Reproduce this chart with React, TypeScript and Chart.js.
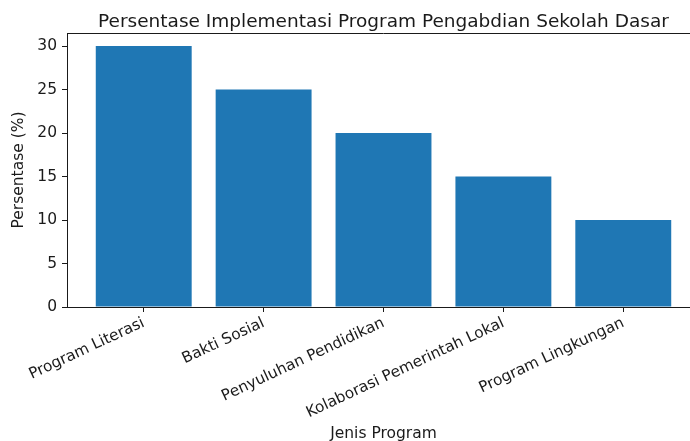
import React, { useEffect, useRef } from "react";
import { Chart, registerables } from "chart.js";

Chart.register(...registerables);

const categories = [
  "Program Literasi",
  "Bakti Sosial",
  "Penyuluhan Pendidikan",
  "Kolaborasi Pemerintah Lokal",
  "Program Lingkungan",
];
const values = [30, 25, 20, 15, 10];
const yTicks = [0, 5, 10, 15, 20, 25, 30];
const titleText = "Persentase Implementasi Program Pengabdian Sekolah Dasar";
const xTitle = "Jenis Program";
const yTitle = "Persentase (%)";

const FONT = "'DejaVu Sans', sans-serif";
const INK = "#1a1a1a";
const BAR = "#1f77b4";

export default function App() {
  const ref = useRef<HTMLCanvasElement>(null);

  useEffect(() => {
    if (!ref.current) return;
    const mplPlugin = {
      id: "mplDecor",
      afterDraw(chart: any) {
        const { ctx, chartArea } = chart;
        ctx.save();
        ctx.font = `18.5px ${FONT}`;
        ctx.fillStyle = INK;
        ctx.textAlign = "center";
        ctx.textBaseline = "alphabetic";
        ctx.fillText(titleText, (chartArea.left + chartArea.right) / 2, 27);
        ctx.strokeStyle = INK;
        ctx.lineWidth = 1;
        const y = Math.round(chartArea.top) + 0.5;
        ctx.beginPath();
        ctx.moveTo(chartArea.left, y);
        ctx.lineTo(chartArea.right, y);
        ctx.stroke();
        ctx.restore();
      },
    };

    const chart = new Chart(ref.current, {
      type: "bar",
      data: {
        datasets: [
          {
            data: categories.map((_, i) => ({ x: i, y: values[i] })),
            backgroundColor: BAR,
            borderWidth: 0,
            barPercentage: 0.8,
            categoryPercentage: 1,
          },
        ],
      },
      plugins: [mplPlugin],
      options: {
        responsive: false,
        animation: false,
        layout: { padding: { top: 33, right: 10, bottom: 0, left: 0 } },
        plugins: {
          legend: { display: false },
          tooltip: { enabled: false },
          title: { display: false },
        },
        scales: {
          x: {
            type: "linear",
            min: -0.64,
            max: 4.64,
            offset: false,
            afterBuildTicks: (s: any) => {
              s.ticks = categories.map((_, i) => ({ value: i }));
            },
            afterFit: (s: any) => {
              s.height = 134;
              s.paddingLeft = 0;
              s.paddingRight = 0;
            },
            ticks: {
              autoSkip: false,
              minRotation: 25,
              maxRotation: 25,
              padding: 2,
              color: INK,
              font: { family: FONT, size: 15.3 },
              callback: (v: any) => categories[v as number] ?? "",
            },
            grid: {
              offset: false,
              drawOnChartArea: false,
              drawTicks: true,
              tickLength: 5,
              color: INK,
              lineWidth: 1,
            },
            border: { display: true, color: INK, width: 1 },
            title: {
              display: true,
              text: xTitle,
              color: INK,
              font: { family: FONT, size: 15.5, lineHeight: 0.9 },
              padding: { top: 0, bottom: 0 },
            },
          },
          y: {
            min: 0,
            max: 31.5,
            afterBuildTicks: (s: any) => {
              s.ticks = yTicks.map((v) => ({ value: v }));
            },
            afterFit: (s: any) => {
              s.width = 67;
              s.paddingTop = 0;
              s.paddingBottom = 0;
            },
            ticks: {
              padding: 5,
              color: INK,
              font: { family: FONT, size: 15.5 },
            },
            grid: {
              drawOnChartArea: false,
              drawTicks: true,
              tickLength: 5,
              color: INK,
              lineWidth: 1,
            },
            border: { display: true, color: INK, width: 1 },
            title: {
              display: true,
              text: yTitle,
              color: INK,
              font: { family: FONT, size: 15.5, lineHeight: 0.9 },
              padding: { top: 12, bottom: 0 },
            },
          },
        },
      },
    } as any);
    return () => chart.destroy();
  }, []);

  return (
    <div
      style={{
        position: "fixed",
        left: 0,
        top: 0,
        width: 690,
        height: 441,
        overflow: "hidden",
        background: "#fff",
      }}
    >
      <canvas
        ref={ref}
        width={710}
        height={441}
        style={{ display: "block", width: 710, height: 441 }}
      />
    </div>
  );
}
